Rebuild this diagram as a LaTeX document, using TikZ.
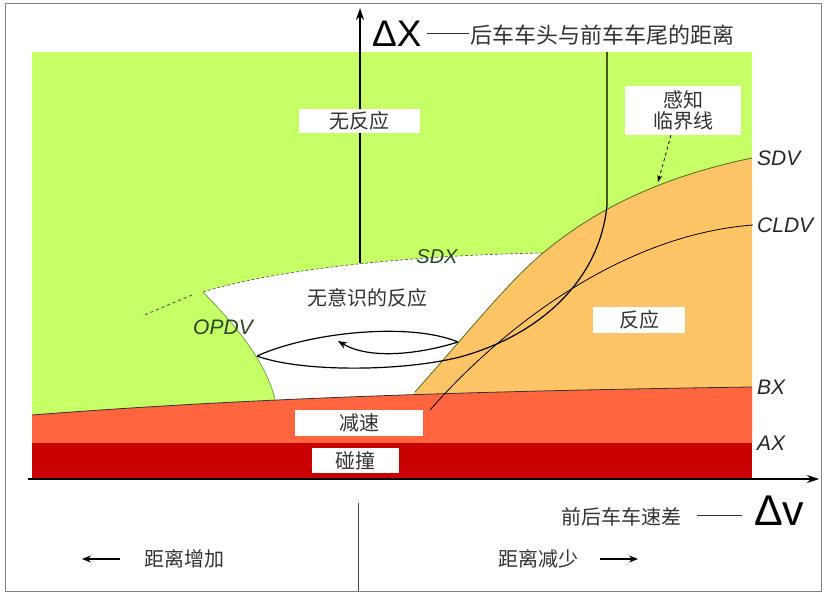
\documentclass[tikz,border=0pt]{standalone}
\usepackage{fontspec}
\setmainfont{Liberation Sans}
\newfontfamily\cjk{Noto Sans CJK SC}
\usetikzlibrary{arrows.meta}
\definecolor{cgreen}{RGB}{198,255,102}
\definecolor{corange}{RGB}{255,196,102}
\definecolor{ctomato}{RGB}{255,102,64}
\definecolor{cdarkred}{RGB}{200,0,0}
\definecolor{colive}{RGB}{80,110,30}
\definecolor{cgline}{RGB}{100,160,50}
\definecolor{cdgreen}{RGB}{40,70,35}
\definecolor{ctext}{RGB}{50,50,50}
\tikzset{
  cjklabel/.style={font=\cjk\fontsize{20}{22}\selectfont, text=ctext, inner sep=0pt},
  whitebox/.style={cjklabel, fill=white, draw=none},
  latlabel/.style={font=\itshape\fontsize{21}{24}\selectfont, text=black!85, inner sep=0pt},
  grlabel/.style={font=\itshape\fontsize{21}{24}\selectfont, text=cdgreen, inner sep=0pt},
  axisline/.style={line width=1.3pt, -{Stealth[length=12pt,width=8pt]}},
  curveline/.style={line width=1.2pt, black},
}
\begin{document}
\begin{tikzpicture}[x=1pt,y=-1pt]
\useasboundingbox (0,0) rectangle (826,593);
% frame
\draw[gray, line width=1pt] (5,4) rectangle (821,591);
% regions
\fill[cgreen] (32,52) rectangle (752,479);
\fill[white] (203,292) .. controls (280,268) and (420,255) .. (543,253)
  -- (400,430) -- (285,430) -- (275,399) .. controls (265,360) and (235,325) .. (203,292) -- cycle;
\fill[corange] (405,405) -- (415,392) .. controls (470,330) and (510,280) .. (543,253)
  .. controls (600,205) and (670,175) .. (752,158) -- (752,430) -- (400,430) -- cycle;
\fill[ctomato] (32,415) .. controls (200,402) and (400,392) .. (752,387) -- (752,443) -- (32,443) -- cycle;
\fill[cdarkred] (32,443) rectangle (752,479);
% boundary lines
\draw[black!70, line width=0.6pt, densely dashed] (203,292) .. controls (280,268) and (420,255) .. (543,253);
\draw[cgline, line width=0.7pt] (203,292) .. controls (235,325) and (265,360) .. (275,399);
\draw[colive, line width=0.8pt] (415,392) .. controls (470,330) and (510,280) .. (543,253)
  .. controls (600,205) and (670,175) .. (752,158);
\draw[black!80, line width=0.8pt] (32,415) .. controls (200,402) and (400,392) .. (752,387);
\draw[cdgreen!80, line width=1pt, dash pattern=on 3pt off 3pt] (192,295) -- (142,316);
% trajectory and curves
\coordinate (ttop) at (607,52);
\coordinate (tbend) at (607,205);
\coordinate (tmid) at (460,357);
\coordinate (lensL) at (257,356);
\coordinate (lensR) at (458,342);
\draw[curveline] (ttop) -- (tbend) .. controls (600,280) and (540,335) .. (tmid)
  .. controls (400,372) and (300,372) .. (lensL);
\draw[curveline] (lensL) .. controls (310,332) and (410,322) .. (lensR);
\coordinate (arrend) at (338,341);
\draw[curveline, -{Stealth[length=9pt,width=7pt]}] (lensR) .. controls (420,354) and (370,360) .. (arrend);
\coordinate (cldvA) at (430,410);
\coordinate (cldvB) at (753,225);
\draw[black, line width=0.8pt] (cldvA) .. controls (500,330) and (620,235) .. (cldvB);
% axes
\coordinate (yfoot) at (360,263);
\coordinate (ytip) at (360,8);
\draw[axisline] (yfoot) -- (ytip);
\coordinate (xfoot) at (28,479);
\coordinate (xtip) at (819,479);
\draw[axisline] (xfoot) -- (xtip);
% bottom divider
\coordinate (divtop) at (358,503);
\coordinate (divbot) at (358,591);
\draw[black!75, line width=1pt] (divtop) -- (divbot);
% labels on axes
\node[anchor=base west, inner sep=0pt, font=\fontsize{37}{40}\selectfont] (dx) at (372,47) {ΔX};
\coordinate (dashA) at (427,33);
\coordinate (dashB) at (469,33);
\draw[black!80, line width=0.8pt] (dashA) -- (dashB);
\node[cjklabel, anchor=west, font=\cjk\fontsize{22}{24}\selectfont] (title) at (470,35) {后车车头与前车车尾的距离};
\node[anchor=base west, inner sep=0pt, font=\fontsize{43}{46}\selectfont] (dv) at (754,525) {Δv};
\node[cjklabel] (vdiff) at (621,517) {前后车车速差};
\coordinate (dashC) at (697,515);
\coordinate (dashD) at (742,515);
\draw[black!80, line width=0.8pt] (dashC) -- (dashD);
\node[cjklabel] (inc) at (184,559) {距离增加};
\coordinate (incA) at (120,559);
\coordinate (incB) at (82,559);
\draw[black, line width=1.1pt, -{Stealth[length=9pt,width=7pt]}] (incA) -- (incB);
\node[cjklabel] (dec) at (538,559) {距离减少};
\coordinate (decA) at (600,559);
\coordinate (decB) at (638,559);
\draw[black, line width=1.1pt, -{Stealth[length=9pt,width=7pt]}] (decA) -- (decB);
% curve labels
\node[latlabel, anchor=west] (sdv) at (757,158) {SDV};
\node[latlabel, anchor=west] (cldv) at (757,225) {CLDV};
\node[latlabel, anchor=west] (bx) at (757,387) {BX};
\node[latlabel, anchor=west] (ax) at (757,443) {AX};
\node[grlabel, font=\itshape\fontsize{20}{24}\selectfont] (sdx) at (437,257) {SDX};
\node[grlabel] (opdv) at (223,327) {OPDV};
% region boxes
\node[whitebox, minimum width=121pt, minimum height=24pt] (nfy) at (359.5,121) {无反应};
\node[cjklabel] (wys) at (367,298) {无意识的反应};
\node[whitebox, minimum width=116pt, minimum height=49pt, align=center, font=\cjk\fontsize{20}{21}\selectfont] (gz) at (683,110.5) {感知\\临界线};
\coordinate (gztip) at (658,182);
\draw[black, line width=0.8pt, dashed, -{Stealth[length=7pt,width=5pt]}] (gz.south -| 671,0) -- (gztip);
\node[whitebox, minimum width=92pt, minimum height=26pt] (fy) at (639,320) {反应};
\node[whitebox, minimum width=128pt, minimum height=26pt] (js) at (359,423) {减速};
\node[whitebox, minimum width=87pt, minimum height=25pt] (pz) at (355.5,460.5) {碰撞};
\end{tikzpicture}
\end{document}
